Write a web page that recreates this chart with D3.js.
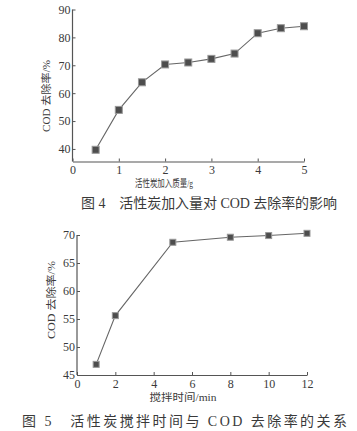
<!DOCTYPE html>
<html>
<head>
<meta charset="utf-8">
<script src="https://cdn.jsdelivr.net/npm/d3@7"></script>
<style>
  html, body { margin: 0; padding: 0; background: #fff; }
  svg { display: block; }
  text { font-family: "Liberation Serif", "Noto Sans CJK SC", serif; fill: #3a3a3a; }
  .domain, .tick line { stroke: #555; }
</style>
</head>
<body>
<svg id="chart" width="357" height="431"></svg>
<script>
// Figure 4: activated carbon dosage vs COD removal
const dosage = [0.5, 1, 1.5, 2, 2.5, 3, 3.5, 4, 4.5, 5];
const removal1 = [39.7, 54.0, 63.9, 70.3, 71.0, 72.3, 74.2, 81.5, 83.3, 84.0];
const xTicks1 = [0, 1, 2, 3, 4, 5];
const yTicks1 = [40, 50, 60, 70, 80, 90];

// Figure 5: stirring time vs COD removal
const stirTime = [1, 2, 5, 8, 10, 12];
const removal2 = [46.9, 55.6, 68.7, 69.6, 69.9, 70.3];
const xTicks2 = [0, 2, 4, 6, 8, 10, 12];
const yTicks2 = [45, 50, 55, 60, 65, 70];

const xLabel1 = "活性炭加入质量/g";
const xLabel2 = "搅拌时间/min";
const yLabel = "COD 去除率/%";
const caption1 = "图 4　活性炭加入量对 COD 去除率的影响";
const caption2 = "图 5　活性炭搅拌时间与 COD 去除率的关系";

const svg = d3.select("#chart");

function drawPanel(cfg) {
  const x = d3.scaleLinear().domain(cfg.xDomain).range(cfg.xRange);
  const y = d3.scaleLinear().domain(cfg.yDomain).range(cfg.yRange);
  const g = svg.append("g");

  const xAxis = d3.axisBottom(x).tickValues(cfg.xTicks).tickFormat(d3.format("d"))
    .tickSizeInner(-3).tickSizeOuter(0).tickPadding(4);
  const yAxis = d3.axisLeft(y).tickValues(cfg.yTicks).tickFormat(d3.format("d"))
    .tickSizeInner(-3).tickSizeOuter(0).tickPadding(2);

  const gx = g.append("g").attr("transform", `translate(0,${cfg.yRange[0]})`).call(xAxis);
  const gy = g.append("g").attr("transform", `translate(${cfg.xRange[0]},0)`).call(yAxis);
  // y axis extends only to top tick
  gy.select(".domain").attr("d", `M0,${cfg.yRange[0]}V${y(cfg.yTicks[cfg.yTicks.length-1])}`);
  [gx, gy].forEach(a => {
    a.selectAll(".domain").attr("stroke", "#555").attr("stroke-width", 1.2);
    a.selectAll(".tick line").attr("stroke", "#555");
    a.selectAll(".tick text").style("font-size", "12px").attr("fill", "#3a3a3a")
      .style("font-family", "'Liberation Serif', serif");
  });

  const line = d3.line().x((d, i) => x(cfg.xs[i])).y(d => y(d));
  g.append("path").datum(cfg.ys).attr("d", line)
    .attr("fill", "none").attr("stroke", "#666").attr("stroke-width", 1.1);

  const s = cfg.marker;
  g.selectAll("rect.mk").data(cfg.ys).enter().append("rect").attr("class", "mk")
    .attr("x", (d, i) => x(cfg.xs[i]) - s / 2)
    .attr("y", d => y(d) - s / 2)
    .attr("width", s).attr("height", s)
    .attr("fill", "#4d4d4d").attr("stroke", "#999").attr("stroke-width", 1);

  g.append("text").text(cfg.xLabel)
    .attr("x", cfg.xLabelPos[0]).attr("y", cfg.xLabelPos[1])
    .attr("text-anchor", "middle").style("font-size", "10px")
    .attr("textLength", cfg.xLabelLen).attr("lengthAdjust", "spacingAndGlyphs");

  g.append("text").text(yLabel)
    .attr("transform", `translate(${cfg.yLabelPos[0]},${cfg.yLabelPos[1]}) rotate(-90)`)
    .attr("text-anchor", "middle").style("font-size", "10px")
    .attr("textLength", cfg.yLabelLen).attr("lengthAdjust", "spacingAndGlyphs");

  g.append("text").text(cfg.caption)
    .attr("x", cfg.capPos[0]).attr("y", cfg.capPos[1])
    .style("font-size", "14px").attr("fill", "#333")
    .attr("textLength", cfg.capLen).attr("lengthAdjust", "spacing");
}

drawPanel({
  xDomain: [0, 5], xRange: [72.5, 304],
  yDomain: [35.5, 90], yRange: [161.5, 9.5],
  xTicks: xTicks1, yTicks: yTicks1,
  xs: dosage, ys: removal1, marker: 7,
  xLabel: xLabel1, xLabelPos: [164, 187], xLabelLen: 58,
  yLabelPos: [50, 96], yLabelLen: 72,
  caption: caption1, capPos: [81, 208], capLen: 256
});

drawPanel({
  xDomain: [0, 12], xRange: [77, 307],
  yDomain: [45, 70], yRange: [375, 235],
  xTicks: xTicks2, yTicks: yTicks2,
  xs: stirTime, ys: removal2, marker: 6,
  xLabel: xLabel2, xLabelPos: [183, 401], xLabelLen: 67,
  yLabelPos: [55, 300], yLabelLen: 78,
  caption: caption2, capPos: [22, 426], capLen: 325
});
</script>
</body>
</html>
